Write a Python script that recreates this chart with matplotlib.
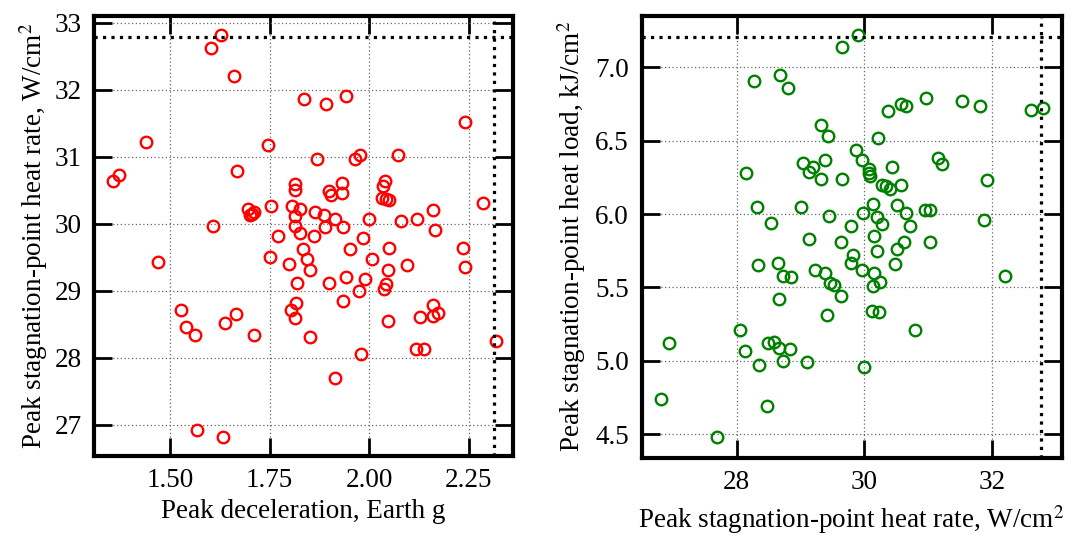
import numpy as np
import matplotlib
matplotlib.use('Agg')
import matplotlib.pyplot as plt

plt.rcParams['font.family'] = ['Liberation Serif', 'DejaVu Serif']
plt.rcParams['mathtext.fontset'] = 'stix'

# left panel: peak deceleration (g) vs peak heat rate (W/cm^2)
decel = [1.628, 1.603, 1.661, 1.837, 1.441, 1.747, 1.372, 1.358, 1.668, 1.813,
         1.813, 1.697, 1.700, 1.711, 1.706, 1.753, 1.806, 1.826, 1.813, 1.609,
         1.813, 1.826, 1.771,
         1.891, 1.943, 2.239, 1.868, 1.964, 1.976, 2.073, 1.932, 1.898, 1.905,
         1.932, 2.039, 2.035, 2.031, 2.041, 2.050, 2.285, 2.160, 2.120, 2.079,
         1.999, 1.865, 1.886, 1.915, 1.890, 1.934, 2.164, 1.984, 1.861,
         1.951, 2.050, 2.235, 1.833, 1.844, 2.008, 2.095, 2.239, 1.851, 2.048,
         1.898, 1.943, 1.989, 1.974, 2.036, 2.043, 1.934, 2.047, 2.127, 2.160,
         2.160, 2.172, 2.317, 1.980, 2.117, 2.137, 1.914, 1.851,
         1.471, 1.751, 1.798, 1.819, 1.817, 1.803, 1.813, 1.527, 1.540, 1.563,
         1.638, 1.665, 1.711, 1.567, 1.634]
heat_rate_l = [32.81, 32.62, 32.20, 31.86, 31.22, 31.17, 30.72, 30.63, 30.78, 30.59,
               30.50, 30.22, 30.13, 30.18, 30.14, 30.26, 30.26, 30.22, 30.12, 29.97,
               29.97, 29.86, 29.81,
               31.79, 31.91, 31.52, 30.96, 30.96, 31.03, 31.02, 30.61, 30.49, 30.43,
               30.46, 30.63, 30.56, 30.38, 30.37, 30.35, 30.31, 30.21, 30.07, 30.04,
               30.07, 30.18, 30.13, 30.07, 29.95, 29.95, 29.90, 29.79, 29.81,
               29.62, 29.64, 29.64, 29.62, 29.47, 29.47, 29.38, 29.35, 29.30, 29.30,
               29.11, 29.21, 29.18, 29.00, 29.02, 29.10, 28.84, 28.54, 28.61, 28.79,
               28.62, 28.67, 28.25, 28.06, 28.13, 28.13, 27.70, 28.31,
               29.43, 29.50, 29.40, 29.12, 28.82, 28.71, 28.59, 28.71, 28.46, 28.33,
               28.51, 28.65, 28.33, 26.92, 26.81]

# right panel: peak heat rate (W/cm^2) vs peak heat load (kJ/cm^2)
heat_rate_r = [28.27, 28.68, 28.81, 29.32, 29.43, 29.39, 29.04, 29.20, 29.14, 29.32,
               28.14, 28.32, 29.01, 28.54, 29.45, 29.13,
               29.90, 29.66, 30.37, 30.58, 30.65, 30.97, 31.54, 31.82, 32.62, 32.81,
               30.22, 29.87, 29.96, 29.65, 30.08, 30.08, 30.09, 30.43, 31.16, 31.22,
               31.93, 30.28, 30.34, 30.40, 30.57, 29.98, 30.14, 30.20, 30.51, 30.65,
               30.95, 31.03, 31.88, 29.79, 30.28, 30.72,
               28.34, 28.65, 28.73, 28.86, 29.23, 29.38, 29.46, 28.67, 29.42, 28.06,
               26.94, 28.13, 28.50, 28.58, 28.66, 28.83, 28.35, 28.72, 29.11, 26.82,
               28.47, 27.70,
               29.64, 30.16, 30.20, 29.82, 29.80, 30.62, 30.51, 30.48, 31.03, 29.96,
               30.16, 30.25, 30.14, 29.52, 29.64, 30.12, 30.24, 30.80, 32.21, 29.99]
heat_load = [6.91, 6.95, 6.86, 6.61, 6.53, 6.37, 6.35, 6.32, 6.29, 6.24,
             6.28, 6.05, 6.05, 5.94, 5.99, 5.83,
             7.22, 7.14, 6.70, 6.75, 6.74, 6.79, 6.77, 6.74, 6.71, 6.72,
             6.52, 6.44, 6.37, 6.24, 6.31, 6.28, 6.26, 6.32, 6.38, 6.34,
             6.23, 6.20, 6.19, 6.17, 6.20, 6.01, 6.07, 5.98, 6.06, 6.01,
             6.03, 6.03, 5.96, 5.92, 5.93, 5.92,
             5.65, 5.67, 5.58, 5.57, 5.62, 5.60, 5.53, 5.42, 5.31, 5.21,
             5.12, 5.07, 5.12, 5.13, 5.09, 5.08, 4.97, 5.00, 4.99, 4.74,
             4.69, 4.48,
             5.81, 5.85, 5.75, 5.72, 5.67, 5.81, 5.76, 5.66, 5.81, 5.62,
             5.60, 5.54, 5.51, 5.52, 5.44, 5.34, 5.33, 5.21, 5.58, 4.96]

max_decel = 2.314
max_rate = 32.78
max_load = 7.21

fs = 19.5


def style(ax):
    for s in ax.spines.values():
        s.set_linewidth(3)
    ax.tick_params(direction='in', length=13, width=2, labelsize=fs,
                   top=True, right=True, pad=9)
    ax.grid(True, linestyle=(0, (1, 2)), color='0.4', linewidth=0.9)
    ax.set_axisbelow(True)


fig = plt.figure(figsize=(10.71, 5.35), dpi=100)

ax1 = fig.add_axes([0.0878, 0.1477, 0.391, 0.8224])
ax1.plot(decel, heat_rate_l, 'o', mfc='none', mec='red', ms=8.3, mew=1.7)
ax1.axhline(max_rate, color='black', linestyle=':', linewidth=2.3)
ax1.axvline(max_decel, color='black', linestyle=':', linewidth=2.3)
ax1.set_xlim(1.31, 2.36)
ax1.set_ylim(26.53, 33.10)
ax1.set_xticks([1.50, 1.75, 2.00, 2.25])
ax1.set_xticklabels(['1.50', '1.75', '2.00', '2.25'])
ax1.set_yticks([27, 28, 29, 30, 31, 32, 33])
ax1.set_xlabel('Peak deceleration, Earth g', fontsize=fs, labelpad=4)
ax1.set_ylabel(r'Peak stagnation-point heat rate, W/cm$^2$', fontsize=fs, labelpad=3)
style(ax1)

ax2 = fig.add_axes([0.599, 0.1445, 0.3925, 0.8255])
ax2.plot(heat_rate_r, heat_load, 'o', mfc='none', mec='green', ms=8.3, mew=1.7)
ax2.axhline(max_load, color='black', linestyle=':', linewidth=2.3)
ax2.axvline(max_rate, color='black', linestyle=':', linewidth=2.3)
ax2.set_xlim(26.51, 33.10)
ax2.set_ylim(4.34, 7.35)
ax2.set_xticks([28, 30, 32])
ax2.set_yticks([4.5, 5.0, 5.5, 6.0, 6.5, 7.0])
ax2.set_xlabel(r'Peak stagnation-point heat rate, W/cm$^2$', fontsize=fs, labelpad=6)
ax2.set_ylabel(r'Peak stagnation-point heat load, kJ/cm$^2$', fontsize=fs, labelpad=5)
style(ax2)

fig.savefig('out.png', dpi=100)
